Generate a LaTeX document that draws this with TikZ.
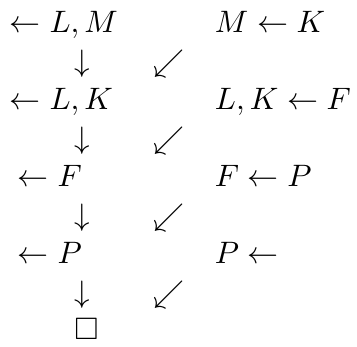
\documentclass[tikz,border=0pt]{standalone}
\usepackage{amssymb}
\begin{document}
\begin{tikzpicture}[x=0.3226pt, y=-0.3226pt,
  lbl/.style={inner sep=0pt, outer sep=0pt, anchor=base west},
  glyph/.style={inner sep=0pt, outer sep=0pt, anchor=center}]
\useasboundingbox (0,0) rectangle (357,347);
% left column
\node[lbl] (l1) at (10,33) {$\leftarrow L, M$};
\node[lbl] (l2) at (10,110) {$\leftarrow L, K$};
\node[lbl] (l3) at (18,187) {$\leftarrow F$};
\node[lbl] (l4) at (18,264) {$\leftarrow P$};
% right column
\node[lbl] (r1) at (215,33) {$M \leftarrow K$};
\node[lbl] (r2) at (215,110) {$L, K \leftarrow F$};
\node[lbl] (r3) at (215,187) {$F \leftarrow P$};
\node[lbl] (r4) at (215,264) {$P \leftarrow$};
% down arrows
\node[glyph] (d1) at (82,63.5) {$\downarrow$};
\node[glyph] (d2) at (82,140.5) {$\downarrow$};
\node[glyph] (d3) at (82,217.5) {$\downarrow$};
\node[glyph] (d4) at (82,295) {$\downarrow$};
% diagonal arrows
\node[glyph] (s1) at (169,63.5) {$\swarrow$};
\node[glyph] (s2) at (169,140.5) {$\swarrow$};
\node[glyph] (s3) at (169,217.5) {$\swarrow$};
\node[glyph] (s4) at (169,295) {$\swarrow$};
% end box
\node[glyph] (qed) at (86.5,329.5) {$\square$};
\end{tikzpicture}
\end{document}
